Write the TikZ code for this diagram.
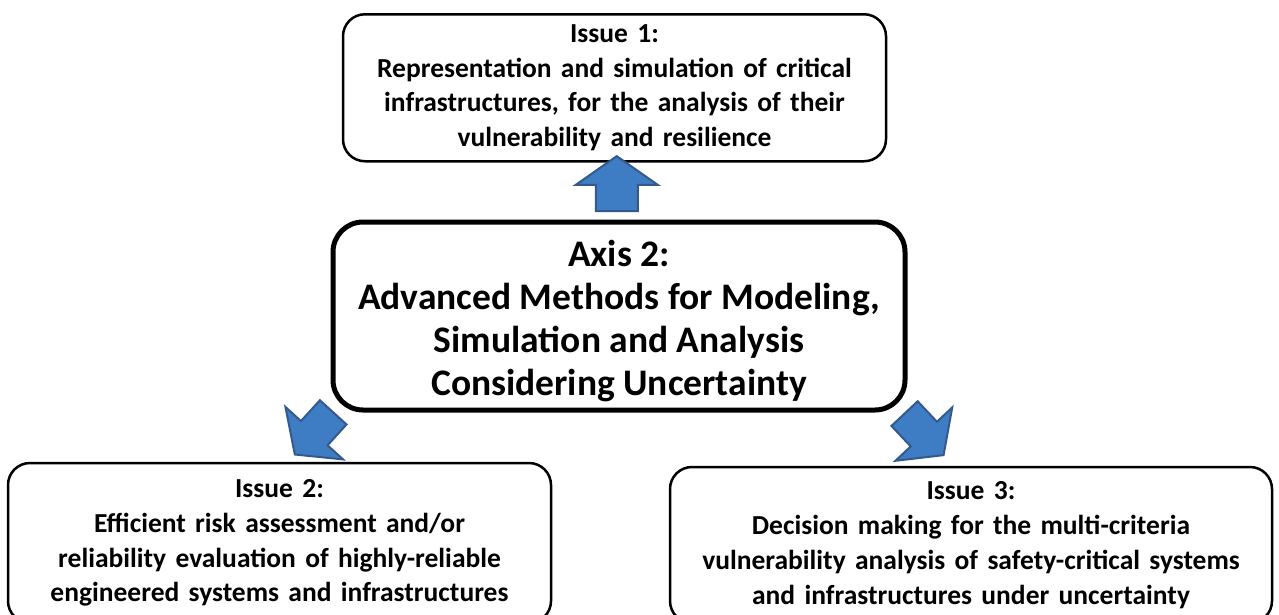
\documentclass[tikz,border=0pt]{standalone}
\usepackage{fontspec}
\setmainfont{Carlito}[WordSpace=1.5]
\newfontfamily\axisfont{Carlito}
\usetikzlibrary{positioning,calc,shapes.arrows}
\definecolor{arrowfill}{RGB}{62,124,196}
\definecolor{arrowline}{RGB}{52,90,140}
\tikzstyle{issue box}=[
        draw = black,
        line width = 2.5pt,
        rounded corners = 22pt,
        fill = white,
        align = center,
        font = \fontsize{27.5}{34.8}\selectfont\bfseries
    ]
\tikzstyle{block arrow}=[
        single arrow,
        draw = arrowline,
        line width = 2pt,
        fill = arrowfill,
        inner xsep = 0pt,
        inner ysep = 17pt,
        minimum height = 57pt,
        single arrow head extend = 21pt,
        single arrow tip angle = 107
    ]

\begin{document}
\begin{tikzpicture}[x=1pt, y=-1pt, axis/.style = {draw, line width=5pt, rounded corners=30pt, align=center, minimum width=572pt, minimum height=188pt, font=\axisfont\fontsize{37.5}{43}\selectfont\bfseries}]
        \useasboundingbox (0,0) rectangle (1279,614);
        \node[axis] (axis) at (619,316) {\rule{0pt}{36pt}Axis 2:\\Advanced Methods for Modeling,\\Simulation and Analysis\\Considering Uncertainty};
        \node[issue box, minimum width=543pt, minimum height=147pt] (issue1) [above=57pt of axis, xshift=-4.5pt] {Issue 1:\\Representation and simulation of critical\\infrastructures,  for the analysis of their\\vulnerability and resilience};
        \node[issue box, minimum width=543pt, minimum height=160pt] (issue2) at (279.5,543) {Issue 2:\\Efficient risk assessment and/or\\reliability evaluation of highly-reliable\\engineered systems and infrastructures};
        \node[issue box, minimum width=602pt, minimum height=156pt] (issue3) at (971,545) {Issue 3:\\Decision making for the multi-criteria\\vulnerability analysis of safety-critical systems\\and infrastructures under uncertainty};

        \node[block arrow, rotate=90, inner ysep=20pt, minimum height=55pt, single arrow head extend=20pt, single arrow tip angle=110] (up) at ($(issue1.south)!0.5!(axis.north)$) {};
        \node[block arrow, rotate=227.7] (downleft) at ($(axis.south west)+(-12,16)$) {};
        \node[block arrow, rotate=-46.8] (downright) at ($(axis.south east)+(12,17)$) {};
    \end{tikzpicture}
\end{document}
